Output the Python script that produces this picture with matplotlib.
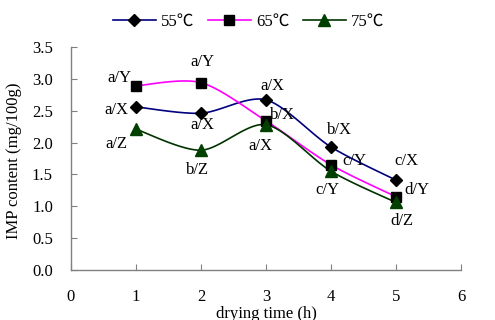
import numpy as np
import matplotlib
matplotlib.use("Agg")
import matplotlib.pyplot as plt
from matplotlib.lines import Line2D

plt.rcParams['font.family'] = ['Liberation Serif', 'Noto Sans CJK SC']

# drying time (h) and IMP content (mg/100g) per drying temperature
hours = [1, 2, 3, 4, 5]
series_names = ["55℃", "65℃", "75℃"]
imp_55 = [2.56, 2.46, 2.67, 1.93, 1.41]
imp_65 = [2.89, 2.94, 2.34, 1.65, 1.15]
imp_75 = [2.21, 1.88, 2.28, 1.55, 1.06]
labels_55 = ["a/X", "a/X", "a/X", "b/X", "c/X"]
labels_65 = ["a/Y", "a/Y", "b/X", "c/Y", "d/Y"]
labels_75 = ["a/Z", "b/Z", "a/X", "c/Y", "d/Z"]
x_ticks = [0, 1, 2, 3, 4, 5, 6]
y_ticks = [0.0, 0.5, 1.0, 1.5, 2.0, 2.5, 3.0, 3.5]

# label offsets in pixels relative to each marker
offs_55 = [(-20, -3), (1, -12), (6, 14), (8, 17), (10, 19)]
offs_65 = [(-17, 8), (1, 21), (16, 6), (23, 4), (21, 7)]
offs_75 = [(-20, -15), (-3, -20), (-6, -21), (-4, -19), (6, -19)]


def smooth(x, y, n=30, k=7.0):
    """Smoothed curve through points using cubic Bezier segments."""
    x = np.asarray(x, float)
    y = np.asarray(y, float)
    px = np.concatenate([[x[0]], x, [x[-1]]])
    py = np.concatenate([[y[0]], y, [y[-1]]])
    xs, ys = [], []
    t = np.linspace(0, 1, n)
    for i in range(1, len(px) - 2):
        p0 = np.array([px[i], py[i]])
        p3 = np.array([px[i + 1], py[i + 1]])
        p1 = p0 + (np.array([px[i + 1], py[i + 1]]) - np.array([px[i - 1], py[i - 1]])) / k
        p2 = p3 - (np.array([px[i + 2], py[i + 2]]) - np.array([px[i], py[i]])) / k
        b = ((1 - t) ** 3)[:, None] * p0 + (3 * (1 - t) ** 2 * t)[:, None] * p1 \
            + (3 * (1 - t) * t ** 2)[:, None] * p2 + (t ** 3)[:, None] * p3
        xs.extend(b[:, 0])
        ys.extend(b[:, 1])
    return np.array(xs), np.array(ys)


fig = plt.figure(figsize=(4.95, 3.2), dpi=100)
ax = fig.add_axes([0.1434, 0.15625, 0.7879, 0.697])

styles = [
    dict(values=imp_55, labels=labels_55, offs=offs_55, lc="#000080", mk="D", ms=6.5, mc="black"),
    dict(values=imp_65, labels=labels_65, offs=offs_65, lc="#FF00FF", mk="s", ms=7, mc="black"),
    dict(values=imp_75, labels=labels_75, offs=offs_75, lc="#003300", mk="^", ms=8, mc="#004000"),
]

handles = []
for name, st in zip(series_names, styles):
    sx, sy = smooth(hours, st["values"])
    ax.plot(sx, sy, color=st["lc"], lw=1.2, zorder=2)
    ax.plot(hours, st["values"], ls="none", marker=st["mk"], ms=st["ms"],
            mfc=st["mc"], mec=st["mc"], zorder=3)
    for xv, yv, lab, (dx, dy) in zip(hours, st["values"], st["labels"], st["offs"]):
        ax.annotate(lab, (xv, yv), xytext=(dx, dy), textcoords="offset pixels",
                    ha="center", va="center", fontsize=12, color="black")
    handles.append(Line2D([], [], color=st["lc"], lw=1.2, marker=st["mk"], ms=st["ms"],
                          mfc=st["mc"], mec=st["mc"], label=name))

ax.set_xlim(0, 6)
ax.set_ylim(0, 3.5)
ax.set_xticks(x_ticks)
ax.set_yticks(y_ticks)
ax.set_yticklabels([f"{v:.1f}" for v in y_ticks])
for s in ["top", "right"]:
    ax.spines[s].set_visible(False)
for s in ["left", "bottom"]:
    ax.spines[s].set_color("#808080")
    ax.spines[s].set_linewidth(1.0)
ax.tick_params(axis="both", direction="in", length=4, color="#808080", labelsize=12)
ax.tick_params(axis="y", pad=13)
ax.tick_params(axis="x", pad=14)

ax.set_xlabel("drying time (h)", fontsize=12, va="top")
ax.xaxis.set_label_coords(0.5, -0.16)
ax.set_ylabel("IMP content (mg/100g)", fontsize=12)
ax.yaxis.set_label_coords(-0.125, 0.49)

fig.legend(handles=handles, loc="center", bbox_to_anchor=(0.502, 0.931), ncol=3,
           frameon=False, fontsize=12, handlelength=2.6, handletextpad=0.3,
           columnspacing=0.8)

fig.savefig("out.png", dpi=100)
